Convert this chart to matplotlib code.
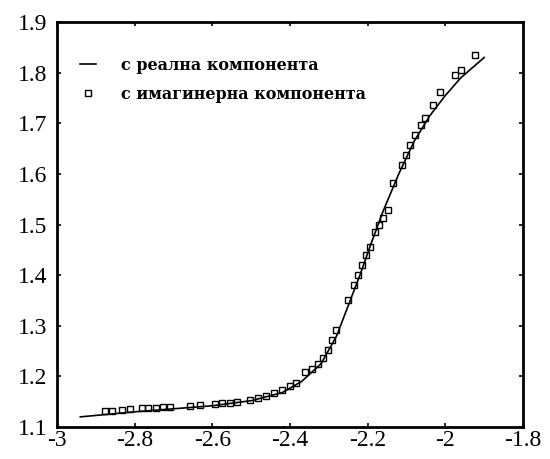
import matplotlib.pyplot as plt

# line: real component
x_real = [-2.94, -2.8, -2.6, -2.5, -2.42, -2.37, -2.32, -2.28, -2.25, -2.22,
          -2.19, -2.16, -2.12, -2.08, -2.04, -2.0, -1.96, -1.90]
y_real = [1.120, 1.130, 1.142, 1.152, 1.168, 1.190, 1.225, 1.280, 1.340, 1.400,
          1.465, 1.527, 1.600, 1.665, 1.715, 1.755, 1.790, 1.830]

# markers: imaginary component
x_imag = [-2.876, -2.858, -2.832, -2.812, -2.781, -2.765, -2.745, -2.727, -2.709,
          -2.657, -2.631, -2.593, -2.575, -2.554, -2.536, -2.503, -2.482, -2.461,
          -2.441, -2.420, -2.399, -2.384, -2.361, -2.343, -2.327, -2.314, -2.302,
          -2.291, -2.281, -2.250, -2.235, -2.224, -2.214, -2.204, -2.193, -2.180,
          -2.170, -2.160, -2.149, -2.134, -2.111, -2.101, -2.090, -2.077, -2.064,
          -2.052, -2.031, -2.013, -1.974, -1.961, -1.923]
y_imag = [1.132, 1.132, 1.134, 1.136, 1.138, 1.138, 1.138, 1.140, 1.140,
          1.142, 1.143, 1.145, 1.147, 1.147, 1.149, 1.153, 1.157, 1.161,
          1.167, 1.173, 1.181, 1.187, 1.209, 1.215, 1.225, 1.236, 1.252,
          1.272, 1.292, 1.351, 1.381, 1.400, 1.420, 1.440, 1.456, 1.485,
          1.499, 1.513, 1.529, 1.582, 1.618, 1.638, 1.657, 1.677, 1.697,
          1.711, 1.736, 1.762, 1.796, 1.806, 1.835]

xticks = [-3, -2.8, -2.6, -2.4, -2.2, -2, -1.8]
xticklabels = ['-3', '-2.8', '-2.6', '-2.4', '-2.2', '-2', '-1.8']
yticks = [1.1, 1.2, 1.3, 1.4, 1.5, 1.6, 1.7, 1.8, 1.9]
yticklabels = ['1.1', '1.2', '1.3', '1.4', '1.5', '1.6', '1.7', '1.8', '1.9']

plt.rcParams['font.family'] = ['Liberation Serif', 'DejaVu Serif']

fig = plt.figure(figsize=(5.5, 4.59), dpi=100)
ax = fig.add_axes([0.1036, 0.0697, 0.8474, 0.8823])

ax.plot(x_real, y_real, color='black', lw=1.2, label='с реална компонента')
ax.plot(x_imag, y_imag, ls='none', marker='s', ms=4, mfc='none', mec='black',
        mew=1.0, label='с имагинерна компонента')

ax.set_xlim(-3, -1.8)
ax.set_ylim(1.1, 1.9)
ax.set_xticks(xticks)
ax.set_xticklabels(xticklabels)
ax.set_yticks(yticks)
ax.set_yticklabels(yticklabels)
ax.tick_params(direction='in', length=3, width=1.2, labelsize=17,
               top=True, right=True, pad=2)
ax.tick_params(axis='y', pad=7)
for s in ax.spines.values():
    s.set_linewidth(2)

ax.legend(loc='upper left', frameon=False,
          prop={'family': 'DejaVu Serif', 'weight': 'bold', 'size': 11.5},
          handlelength=1.0, handletextpad=1.6, borderaxespad=0.0,
          bbox_to_anchor=(0.035, 0.93), labelspacing=0.75)

fig.savefig('out.png', dpi=100)
